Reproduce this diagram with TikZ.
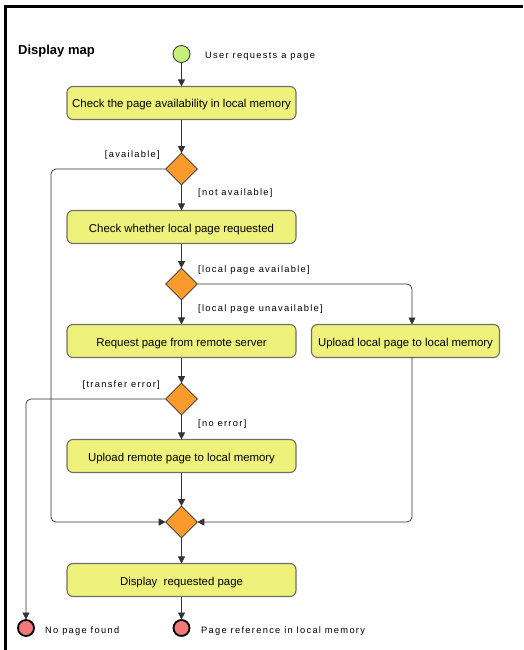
\documentclass[tikz,border=0pt]{standalone}
\usepackage{fontspec}
\setmainfont{Liberation Sans}
\newfontfamily\lblfont[LetterSpace=14]{Liberation Sans}
\usetikzlibrary{shapes.geometric,arrows.meta}
\definecolor{boxfill}{HTML}{EEF27A}
\definecolor{boxline}{HTML}{6E6E6E}
\definecolor{dfill}{HTML}{F89A2C}
\definecolor{startfill}{HTML}{C4F07A}
\definecolor{endfill}{HTML}{F07878}
\definecolor{linec}{HTML}{333333}
\tikzset{
  x=1pt,y=-1pt,
  actbox/.style={draw=boxline,line width=1.1pt,fill=boxfill,rounded corners=6pt,minimum width=229pt,minimum height=33pt,inner sep=0pt,text height=10pt,text depth=0pt,font=\fontsize{11.4}{13}\selectfont},
  dec/.style={diamond,draw=linec,line width=0.6pt,fill=dfill,minimum width=32pt,minimum height=32pt,inner sep=0pt},
  startnode/.style={circle,draw=linec,line width=0.8pt,fill=startfill,minimum size=17pt,inner sep=0pt},
  endnode/.style={circle,draw=black,line width=1.8pt,fill=endfill,minimum size=16pt,inner sep=0pt},
  arr/.style={draw=linec,line width=0.7pt,-{Triangle[length=7pt,width=7pt]},shorten >=-0.5pt},
  lbl/.style={font=\lblfont\fontsize{9.3}{10}\selectfont,text=black,inner sep=0pt,anchor=west},
  rc/.style={rounded corners=5pt}
}
\begin{document}
\begin{tikzpicture}
\useasboundingbox (0,0) rectangle (523,650);
\draw[line width=3pt] (5,650) -- (5,7) -- (523,7);
\node[font=\bfseries\fontsize{13}{15}\selectfont,anchor=west,inner sep=0pt] (title) at (18,51) {Display map};
\node[startnode] (start) at (181.5,54) {};
\node[lbl] (lstart) at (205,56) {User requests a page};
\node[actbox] (b1) at (181.5,103) {Check the page availability in local memory};
\node[dec] (d1) at (181.5,169) {};
\node[actbox] (b2) at (181.5,227) {Check whether local page requested};
\node[dec] (d2) at (181.5,284) {};
\node[actbox] (b3) at (181.5,341) {Request page from remote server};
\node[actbox,minimum width=188pt] (b4) at (405.5,341) {Upload local page to local memory};
\node[dec] (d3) at (181.5,399) {};
\node[actbox] (b5) at (181.5,456) {Upload remote page to local memory};
\node[dec] (m) at (181.5,522) {};
\node[actbox] (b6) at (181.5,580) {Display\ \ requested page};
\node[endnode] (e1) at (26,628) {};
\node[endnode] (e2) at (181.5,628) {};
\node[lbl] (le1) at (45,631) {No page found};
\node[lbl] (le2) at (201,631) {Page reference in local memory};
\node[lbl,anchor=east] (lav) at (160,155) {[available]};
\node[lbl] (lnav) at (198,193) {[not available]};
\node[lbl] (llpa) at (198,270) {[local page available]};
\node[lbl] (llpu) at (198,309) {[local page unavailable]};
\node[lbl,anchor=east] (lte) at (160,385) {[transfer error]};
\node[lbl] (lne) at (198,424) {[no error]};
\coordinate (b4in) at (412,324);
\coordinate (b4out) at (412,357);
\coordinate (leftc) at (51,300);
\draw[arr] (start) -- (b1);
\draw[arr] (b1) -- (d1);
\draw[arr] (d1) -- (b2);
\draw[arr] (b2) -- (d2);
\draw[arr] (d2) -- (b3);
\draw[arr,rc] (d2.east) -| (b4in);
\draw[arr] (b3) -- (d3);
\draw[arr] (d3) -- (b5);
\draw[arr] (b5) -- (m);
\draw[arr,rc] (d1.west) -| (leftc) |- (m.west);
\draw[arr,rc] (b4out) |- (m.east);
\draw[arr] (m) -- (b6);
\draw[arr] (b6) -- (e2);
\draw[arr,rc] (d3.west) -| (e1);
\end{tikzpicture}
\end{document}
